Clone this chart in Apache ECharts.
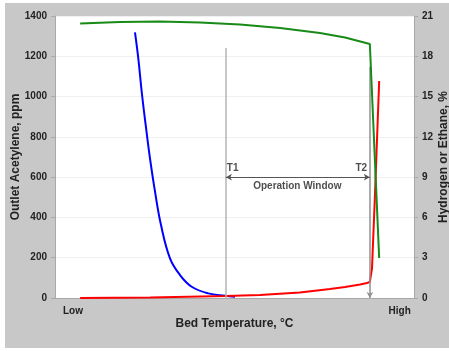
<!DOCTYPE html>
<html>
<head>
<meta charset="utf-8">
<script src="https://cdn.jsdelivr.net/npm/echarts@6/dist/echarts.min.js"></script>
<style>
html,body{margin:0;padding:0;background:#fff;}
#chart{position:absolute;left:5px;top:3px;width:444px;height:345px;background:#c8c8c8;}
</style>
</head>
<body>
<div id="chart"></div>
<script>
// Bed temperature positions (0 = left edge, 100 = right edge of plot)
var hydrogenX = [7.0, 18.1, 29.2, 40.4, 51.5, 62.7, 73.8, 80.8, 87.7, 90.3];
var hydrogenY = [20.44, 20.55, 20.59, 20.52, 20.37, 20.11, 19.73, 19.40, 18.91, 2.98];

var ethaneX = [7.0, 26.5, 47.6, 57.1, 68.2, 76.6, 80.8, 85.0, 86.9, 87.7, 88.3, 89.1, 90.3];
var ethaneY = [0.0, 0.04, 0.15, 0.22, 0.41, 0.67, 0.82, 1.0, 1.12, 1.19, 2.2, 7.5, 16.16];

var acetyleneX = [22.28, 23.20, 24.15, 25.26, 26.46, 27.86, 29.53, 32.03, 34.82, 38.08, 42.70, 47.35, 50.14];
var acetyleneY = [1319, 1190, 1024, 859, 693, 528, 362, 197, 114, 56, 23, 11, 6];

var xTickValues = [5, 96];
var xTickLabels = ['Low', 'High'];
var T1 = 47.6, T2 = 87.7;

function pairs(xs, ys) { return xs.map(function (x, i) { return [x, ys[i]]; }); }

var chart = echarts.init(document.getElementById('chart'), null, {renderer: 'canvas'});
var lab = {fontFamily: 'Liberation Sans, Arial, sans-serif', fontWeight: 'bold', color: '#222', fontSize: 10};
var nameStyle = {fontFamily: lab.fontFamily, fontWeight: 'bold', fontSize: 12, color: '#222'};
var option = {
  animation: false,
  grid: {left: 50, top: 13, right: 35, bottom: 50, show: true, backgroundColor: '#fff', borderWidth: 0,
    containLabel: false, outerBoundsMode: 'none'},
  xAxis: {
    type: 'value', min: 0, max: 100,
    name: 'Bed Temperature, °C', nameLocation: 'middle', nameGap: 20, nameMoveOverlap: false,
    nameTextStyle: nameStyle,
    axisLine: {show: true, lineStyle: {color: '#a8a8a8', width: 1}},
    axisTick: {show: false},
    splitLine: {show: false},
    axisLabel: Object.assign({customValues: xTickValues, margin: 8,
      formatter: function (v) { var i = xTickValues.indexOf(v); return i >= 0 ? xTickLabels[i] : ''; }}, lab)
  },
  yAxis: [{
    type: 'value', min: 0, max: 1400, interval: 200,
    name: 'Outlet Acetylene, ppm', nameLocation: 'middle', nameGap: 33, nameMoveOverlap: false,
    nameTextStyle: nameStyle,
    axisLine: {show: true, lineStyle: {color: '#a8a8a8'}},
    axisTick: {show: true, length: 4, lineStyle: {color: '#a8a8a8'}},
    splitLine: {show: true, lineStyle: {color: '#f0f0f0'}},
    axisLabel: Object.assign({margin: 8, formatter: function (v) { return String(v); }}, lab)
  }, {
    type: 'value', min: 0, max: 21, interval: 3, position: 'right',
    name: 'Hydrogen or Ethane, %', nameLocation: 'middle', nameGap: 24, nameRotate: 90, nameMoveOverlap: false,
    nameTextStyle: nameStyle,
    axisLine: {show: true, lineStyle: {color: '#a8a8a8'}},
    axisTick: {show: true, length: 4, lineStyle: {color: '#a8a8a8'}},
    splitLine: {show: false},
    axisLabel: Object.assign({margin: 8}, lab)
  }],
  series: [{
    type: 'line', yAxisIndex: 0, data: [], silent: true,
    markLine: {
      silent: true, animation: false, label: {show: false},
      lineStyle: {type: 'solid'},
      data: [
        [{coord: [T1, 1241], symbol: 'none', lineStyle: {color: '#b4b4b4', width: 1.5}}, {coord: [T1, 0], symbol: 'none'}],
        [{coord: [T2, 1147], symbol: 'none', lineStyle: {color: '#909090', width: 1.5}}, {coord: [T2, 0], symbol: 'arrow', symbolSize: [5, 6]}],
        [{coord: [T1, 600], symbol: 'arrow', symbolSize: [5, 6], lineStyle: {color: '#555', width: 1}}, {coord: [T2, 600], symbol: 'arrow', symbolSize: [5, 6]}]
      ]
    }
  }, {
    type: 'line', yAxisIndex: 0, data: pairs(acetyleneX, acetyleneY), smooth: 0.4,
    showSymbol: false, lineStyle: {color: '#0000ff', width: 2}, z: 3
  }, {
    type: 'line', yAxisIndex: 1, data: pairs(ethaneX, ethaneY), smooth: false,
    showSymbol: false, lineStyle: {color: '#ff0000', width: 2}, z: 4
  }, {
    type: 'line', yAxisIndex: 1, data: pairs(hydrogenX, hydrogenY), smooth: false,
    showSymbol: false, lineStyle: {color: '#178a17', width: 2}, z: 5
  }, {
    type: 'scatter', yAxisIndex: 0, symbolSize: 0, silent: true, z: 6,
    label: {show: true, position: 'inside', fontFamily: lab.fontFamily, fontWeight: 'bold', fontSize: 10, color: '#222',
      formatter: function (p) { return p.data[2]; }},
    data: [[49.5, 645, 'T1'], [85.3, 645, 'T2'], [67.5, 555, 'Operation Window']]
  }]
};
chart.setOption(option);
</script>
</body>
</html>
